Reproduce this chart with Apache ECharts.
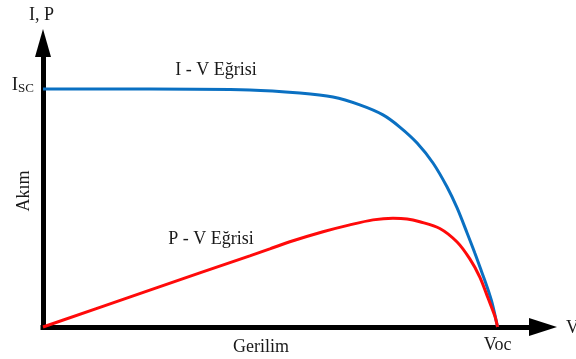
<!DOCTYPE html>
<html>
<head>
<meta charset="utf-8">
<script src="https://cdn.jsdelivr.net/npm/echarts@6/dist/echarts.min.js"></script>
<style>html,body{margin:0;padding:0;background:#fff;}#c{width:576px;height:359px;}</style>
</head>
<body>
<div id="c"></div>
<script>
// I-V curve (normalized: V/Voc, I/Isc)
const ivVoltage = [0, 0.235, 0.455, 0.565, 0.638, 0.697, 0.748, 0.785, 0.823, 0.858, 0.889, 0.911, 0.933, 0.950, 0.966, 0.977, 0.988, 1.0];
const ivCurrent = [1.0, 1.0, 0.996, 0.983, 0.966, 0.933, 0.891, 0.840, 0.773, 0.689, 0.588, 0.500, 0.395, 0.311, 0.227, 0.168, 0.101, 0];
// P-V curve
const pvVoltage = [0, 0.235, 0.455, 0.499, 0.543, 0.616, 0.675, 0.726, 0.770, 0.801, 0.829, 0.873, 0.911, 0.939, 0.961, 0.979, 0.994, 1.0];
const pvPower = [0, 0.155, 0.299, 0.328, 0.358, 0.400, 0.429, 0.450, 0.457, 0.454, 0.442, 0.414, 0.357, 0.286, 0.210, 0.122, 0.046, 0];
// tick labels
const xTickValues = [1];
const xTickLabels = ['Voc'];
const yTickValues = [1];
const yTickLabels = ['{a|I}{b|SC}'];
const xName = 'Gerilim';
const yName = 'Akım';
const xEndName = 'V';
const yEndName = 'I, P';
const ivLabel = 'I - V Eğrisi';
const pvLabel = 'P - V Eğrisi';

const FONT = '"Liberation Serif", "Times New Roman", serif';
const TXT = '#1a1a1a';

const chart = echarts.init(document.getElementById('c'), null, {renderer: 'canvas'});
chart.setOption({
  animation: false,
  backgroundColor: '#fff',
  grid: {left: 43, right: 33, top: 43, bottom: 32, containLabel: false, outerBoundsMode: 'none'},
  xAxis: {
    type: 'value', min: 0, max: 1.1,
    splitLine: {show: false},
    axisTick: {show: false},
    axisLine: {show: true, onZero: false, symbol: ['none', 'triangle'], symbolSize: [18, 28],
      lineStyle: {color: '#000', width: 5, cap: 'square'}},
    axisLabel: {
      customValues: xTickValues, margin: 9,
      formatter: v => xTickLabels[xTickValues.indexOf(v)] || '',
      fontFamily: FONT, fontSize: 18, color: TXT
    }
  },
  yAxis: {
    type: 'value', min: 0, max: 1.193,
    splitLine: {show: false},
    axisTick: {show: false},
    axisLine: {show: true, onZero: false, symbol: ['none', 'triangle'], symbolSize: [16, 28],
      lineStyle: {color: '#000', width: 5, cap: 'square'}},
    axisLabel: {
      customValues: yTickValues, margin: 9,
      formatter: v => yTickLabels[yTickValues.indexOf(v)] || '',
      padding: [0, 0, 6, 0],
      rich: {
        a: {fontFamily: FONT, fontSize: 19, color: TXT, verticalAlign: 'bottom', lineHeight: 18},
        b: {fontFamily: FONT, fontSize: 13, color: TXT, verticalAlign: 'bottom', lineHeight: 12}
      }
    }
  },
  graphic: [
    {type: 'text', x: 29, y: 15, style: {text: yEndName, font: '18px ' + FONT, fill: TXT, verticalAlign: 'middle'}},
    {type: 'text', x: 566, y: 328, style: {text: xEndName, font: '18px ' + FONT, fill: TXT, verticalAlign: 'middle'}},
    {type: 'text', x: 261, y: 347, style: {text: xName, font: '18px ' + FONT, fill: TXT, align: 'center', verticalAlign: 'middle'}},
    {type: 'text', x: 24, y: 191, rotation: Math.PI / 2, style: {text: yName, font: '18px ' + FONT, fill: TXT, align: 'center', verticalAlign: 'middle'}},
    {type: 'text', x: 216, y: 70, style: {text: ivLabel, font: '18px ' + FONT, fill: TXT, align: 'center', verticalAlign: 'middle'}},
    {type: 'text', x: 211, y: 239, style: {text: pvLabel, font: '18px ' + FONT, fill: TXT, align: 'center', verticalAlign: 'middle'}}
  ],
  series: [
    {
      type: 'line', name: ivLabel,
      data: ivVoltage.map((v, i) => [v, ivCurrent[i]]),
      showSymbol: false, smooth: 0.3, clip: false,
      lineStyle: {color: '#0a70c2', width: 3}
    },
    {
      type: 'line', name: pvLabel,
      data: pvVoltage.map((v, i) => [v, pvPower[i]]),
      showSymbol: false, smooth: 0.3, clip: false,
      lineStyle: {color: '#ff0a0a', width: 3}
    }
  ]
});
</script>
</body>
</html>
